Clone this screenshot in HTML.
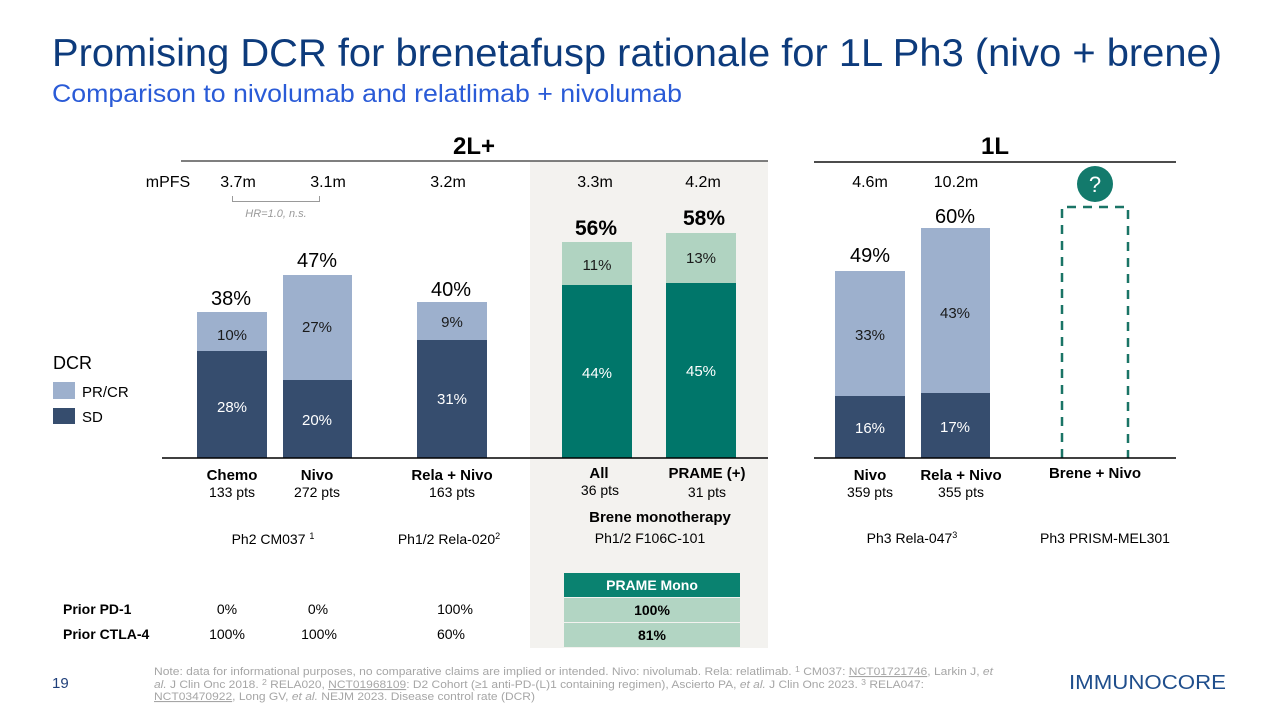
<!DOCTYPE html>
<html>
<head>
<meta charset="utf-8">
<style>
  html, body { margin:0; padding:0; background:#ffffff; }
  svg { display:block; font-family:"Liberation Sans", Arial, sans-serif; }
</style>
</head>
<body>
<svg width="1280" height="720" viewBox="0 0 1280 720" xmlns="http://www.w3.org/2000/svg">
  <rect width="1280" height="720" fill="#ffffff"/>

  <!-- Title -->
  <text x="52" y="66" font-size="39" fill="#0d3b7c" textLength="1170" lengthAdjust="spacingAndGlyphs">Promising DCR for brenetafusp rationale for 1L Ph3 (nivo + brene)</text>
  <text x="52" y="102" font-size="25" fill="#2a5bd7" textLength="630" lengthAdjust="spacingAndGlyphs">Comparison to nivolumab and relatlimab + nivolumab</text>

  <!-- Gray panel -->
  <rect x="530" y="161" width="238" height="487" fill="#f3f2ef"/>

  <!-- Headers -->
  <text x="474" y="154" font-size="24" font-weight="bold" text-anchor="middle" fill="#000">2L+</text>
  <line x1="181" y1="161" x2="768" y2="161" stroke="#555" stroke-width="1.5"/>
  <text x="995" y="154" font-size="24" font-weight="bold" text-anchor="middle" fill="#000">1L</text>
  <line x1="814" y1="162" x2="1176" y2="162" stroke="#111" stroke-width="1.5"/>

  <!-- mPFS row -->
  <g font-size="16" fill="#000" text-anchor="middle">
    <text x="168" y="187">mPFS</text>
    <text x="238" y="187">3.7m</text>
    <text x="328" y="187">3.1m</text>
    <text x="448" y="187">3.2m</text>
    <text x="595" y="187">3.3m</text>
    <text x="703" y="187">4.2m</text>
    <text x="870" y="187">4.6m</text>
    <text x="956" y="187">10.2m</text>
  </g>
  <path d="M232.5 196 V201.5 H319.5 V196" fill="none" stroke="#9a9a9a" stroke-width="1"/>
  <text x="276" y="217" font-size="11" font-style="italic" fill="#9a9a9a" text-anchor="middle">HR=1.0, n.s.</text>

  <!-- Bars 2L -->
  <rect x="197" y="312" width="70" height="39" fill="#9db0cd"/>
  <rect x="197" y="351" width="70" height="107" fill="#364d6e"/>
  <rect x="283" y="275" width="69" height="105" fill="#9db0cd"/>
  <rect x="283" y="380" width="69" height="78" fill="#364d6e"/>
  <rect x="417" y="302" width="70" height="38" fill="#9db0cd"/>
  <rect x="417" y="340" width="70" height="118" fill="#364d6e"/>

  <rect x="562" y="242" width="70" height="43" fill="#b0d3c1"/>
  <rect x="562" y="285" width="70" height="173" fill="#00766a"/>
  <rect x="666" y="233" width="70" height="50" fill="#b0d3c1"/>
  <rect x="666" y="283" width="70" height="175" fill="#00766a"/>

  <!-- Bars 1L -->
  <rect x="835" y="271" width="70" height="125" fill="#9db0cd"/>
  <rect x="835" y="396" width="70" height="62" fill="#364d6e"/>
  <rect x="921" y="228" width="69" height="165" fill="#9db0cd"/>
  <rect x="921" y="393" width="69" height="65" fill="#364d6e"/>

  <!-- Dashed placeholder -->
  <path d="M1062 458 V207 H1128 V458" fill="none" stroke="#1a7466" stroke-width="2.5" stroke-dasharray="9,7"/>
  <circle cx="1095" cy="184" r="18" fill="#137a6c"/>
  <text x="1095" y="192" font-size="22" fill="#ffffff" text-anchor="middle">?</text>

  <!-- Axes -->
  <line x1="162" y1="458" x2="768" y2="458" stroke="#000" stroke-width="1.5"/>
  <line x1="814" y1="458" x2="1176" y2="458" stroke="#000" stroke-width="1.5"/>

  <!-- Totals -->
  <g font-size="20" fill="#000" text-anchor="middle">
    <text x="231" y="305">38%</text>
    <text x="317" y="267">47%</text>
    <text x="451" y="296">40%</text>
    <text x="870" y="262">49%</text>
    <text x="955" y="223">60%</text>
  </g>
  <g font-size="21" font-weight="bold" fill="#000" text-anchor="middle">
    <text x="596" y="235">56%</text>
    <text x="704" y="225">58%</text>
  </g>

  <!-- Inner labels -->
  <g font-size="15" text-anchor="middle">
    <text x="232" y="340" fill="#1a1a1a">10%</text>
    <text x="232" y="412" fill="#ffffff">28%</text>
    <text x="317" y="332" fill="#1a1a1a">27%</text>
    <text x="317" y="425" fill="#ffffff">20%</text>
    <text x="452" y="327" fill="#1a1a1a">9%</text>
    <text x="452" y="404" fill="#ffffff">31%</text>
    <text x="597" y="270" fill="#1a1a1a">11%</text>
    <text x="597" y="378" fill="#ffffff">44%</text>
    <text x="701" y="263" fill="#1a1a1a">13%</text>
    <text x="701" y="376" fill="#ffffff">45%</text>
    <text x="870" y="340" fill="#1a1a1a">33%</text>
    <text x="870" y="433" fill="#ffffff">16%</text>
    <text x="955" y="318" fill="#1a1a1a">43%</text>
    <text x="955" y="432" fill="#ffffff">17%</text>
  </g>

  <!-- Legend -->
  <text x="53" y="369" font-size="18" fill="#000">DCR</text>
  <rect x="53" y="382" width="22" height="17" fill="#9db0cd"/>
  <rect x="53" y="408" width="22" height="16" fill="#364d6e"/>
  <text x="82" y="397" font-size="15" fill="#000">PR/CR</text>
  <text x="82" y="422" font-size="15" fill="#000">SD</text>

  <!-- Category labels -->
  <g font-size="15" font-weight="bold" fill="#000" text-anchor="middle">
    <text x="232" y="480">Chemo</text>
    <text x="317" y="480">Nivo</text>
    <text x="452" y="480">Rela + Nivo</text>
    <text x="599" y="478">All</text>
    <text x="707" y="478">PRAME (+)</text>
    <text x="870" y="480">Nivo</text>
    <text x="961" y="480">Rela + Nivo</text>
    <text x="1095" y="478">Brene + Nivo</text>
    <text x="660" y="522">Brene monotherapy</text>
  </g>
  <g font-size="14" fill="#000" text-anchor="middle">
    <text x="232" y="497">133 pts</text>
    <text x="317" y="497">272 pts</text>
    <text x="452" y="497">163 pts</text>
    <text x="600" y="495">36 pts</text>
    <text x="707" y="497">31 pts</text>
    <text x="870" y="497">359 pts</text>
    <text x="961" y="497">355 pts</text>
  </g>

  <!-- Study labels -->
  <g font-size="14" fill="#000" text-anchor="middle">
    <text x="273" y="544">Ph2 CM037 <tspan font-size="9" dy="-5">1</tspan></text>
    <text x="449" y="544">Ph1/2 Rela-020<tspan font-size="9" dy="-5">2</tspan></text>
    <text x="650" y="543">Ph1/2 F106C-101</text>
    <text x="912" y="543">Ph3 Rela-047<tspan font-size="9" dy="-5">3</tspan></text>
    <text x="1105" y="543">Ph3 PRISM-MEL301</text>
  </g>

  <!-- PRAME Mono table -->
  <rect x="564" y="573" width="176" height="24" fill="#0a8270"/>
  <rect x="564" y="598" width="176" height="24" fill="#b2d5c3"/>
  <rect x="564" y="623" width="176" height="24" fill="#b2d5c3"/>
  <text x="652" y="590" font-size="14" font-weight="bold" fill="#ffffff" text-anchor="middle">PRAME Mono</text>
  <text x="652" y="615" font-size="14" font-weight="bold" fill="#000" text-anchor="middle">100%</text>
  <text x="652" y="640" font-size="14" font-weight="bold" fill="#000" text-anchor="middle">81%</text>

  <!-- Prior table -->
  <g font-size="14" font-weight="bold" fill="#000">
    <text x="63" y="614">Prior PD-1</text>
    <text x="63" y="639">Prior CTLA-4</text>
  </g>
  <g font-size="14" fill="#000" text-anchor="middle">
    <text x="227" y="614">0%</text>
    <text x="318" y="614">0%</text>
    <text x="455" y="614">100%</text>
    <text x="227" y="639">100%</text>
    <text x="319" y="639">100%</text>
    <text x="451" y="639">60%</text>
  </g>

  <!-- Page number -->
  <text x="52" y="688" font-size="15" fill="#1f3f7a">19</text>

  <!-- Footnotes -->
  <g font-size="11" fill="#a6a6a6">
    <text x="154" y="675" textLength="839" lengthAdjust="spacingAndGlyphs">Note: data for informational purposes, no comparative claims are implied or intended. Nivo: nivolumab. Rela: relatlimab. <tspan font-size="8" dy="-3">1</tspan><tspan dy="3"> CM037:  </tspan><tspan text-decoration="underline">NCT01721746</tspan>, Larkin J, <tspan font-style="italic">et</tspan></text>
    <text x="154" y="688" textLength="770" lengthAdjust="spacingAndGlyphs"><tspan font-style="italic">al.</tspan> J Clin Onc 2018. <tspan font-size="8" dy="-3">2</tspan><tspan dy="3"> RELA020, </tspan><tspan text-decoration="underline">NCT01968109</tspan>: D2 Cohort (≥1 anti-PD-(L)1 containing regimen), Ascierto PA, <tspan font-style="italic">et al.</tspan> J Clin Onc 2023. <tspan font-size="8" dy="-3">3</tspan><tspan dy="3"> RELA047:</tspan></text>
    <text x="154" y="700" textLength="381" lengthAdjust="spacingAndGlyphs"><tspan text-decoration="underline">NCT03470922</tspan>, Long GV, <tspan font-style="italic">et al.</tspan> NEJM 2023. Disease control rate (DCR)</text>
  </g>

  <!-- Logo -->
  <text x="1069" y="689" font-size="20" fill="#1f4e8c" textLength="157" lengthAdjust="spacingAndGlyphs">IMMUNOCORE</text>
</svg>
</body>
</html>
